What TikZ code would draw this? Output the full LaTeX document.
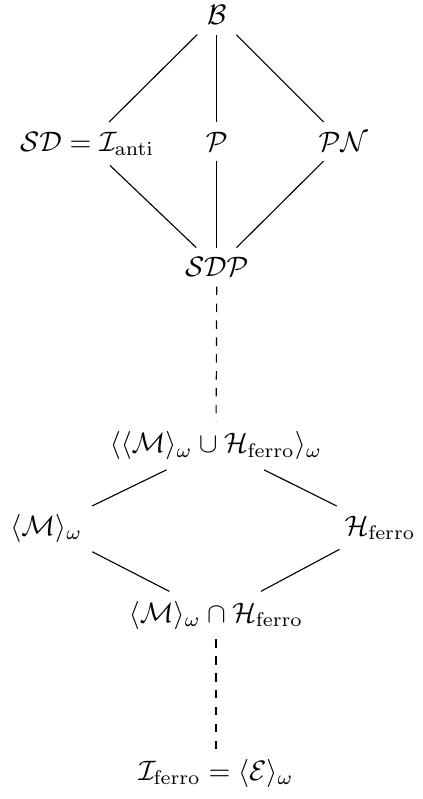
\documentclass[tikz,border=0pt]{standalone}
\usepackage{amsmath}
\usetikzlibrary{positioning}

\begin{document}
\begin{tikzpicture}[
  elem/.style={anchor=base},
  cover/.style={thin, black},
  gap/.style={thin, black, dashed},
]
  \useasboundingbox (0,0) rectangle (5.2875,-9.9875);
  % upper part
  \node[elem] (top) at (2.71,-0.31) {$\mathcal{B}$};
  \node[elem] (sd)  at (1.09,-1.89) {$\mathcal{SD} = \mathcal{I}_{\mathrm{anti}}$};
  \node[elem] (p)   at (2.71,-1.89) {$\mathcal{P}$};
  \node[elem] (pn)  at (4.29,-1.89) {$\mathcal{PN}$};
  \node[elem] (sdp) at (2.71,-3.46) {$\mathcal{SDP}$};
  % lower part
  \node[elem] (join) at (2.70,-5.66)
    {$\langle\langle\mathcal{M}\rangle_\omega \cup \mathcal{H}_{\mathrm{ferro}}\rangle_\omega$};
  \node[elem] (m)    at (0.58,-6.69) {$\langle\mathcal{M}\rangle_\omega$};
  \node[elem] (hf)   at (4.75,-6.69) {$\mathcal{H}_{\mathrm{ferro}}$};
  \node[elem] (meet) at (2.70,-7.78)
    {$\langle\mathcal{M}\rangle_\omega \cap \mathcal{H}_{\mathrm{ferro}}$};
  \node[elem] (ifer) at (2.70,-9.75)
    {$\mathcal{I}_{\mathrm{ferro}} = \langle\mathcal{E}\rangle_\omega$};

  \draw[cover] (top) -- (sd);
  \draw[cover] (top) -- (p);
  \draw[cover] (top) -- (pn);
  \draw[cover] (sd)  -- (sdp);
  \draw[cover] (p)   -- (sdp);
  \draw[cover] (pn)  -- (sdp);
  \draw[gap]   (sdp) -- (join);
  \draw[cover] (join) -- (m);
  \draw[cover] (join) -- (hf);
  \draw[cover] (m)   -- (meet);
  \draw[cover] (hf)  -- (meet);
  \draw[gap]   (meet) -- (ifer);
\end{tikzpicture}
\end{document}
